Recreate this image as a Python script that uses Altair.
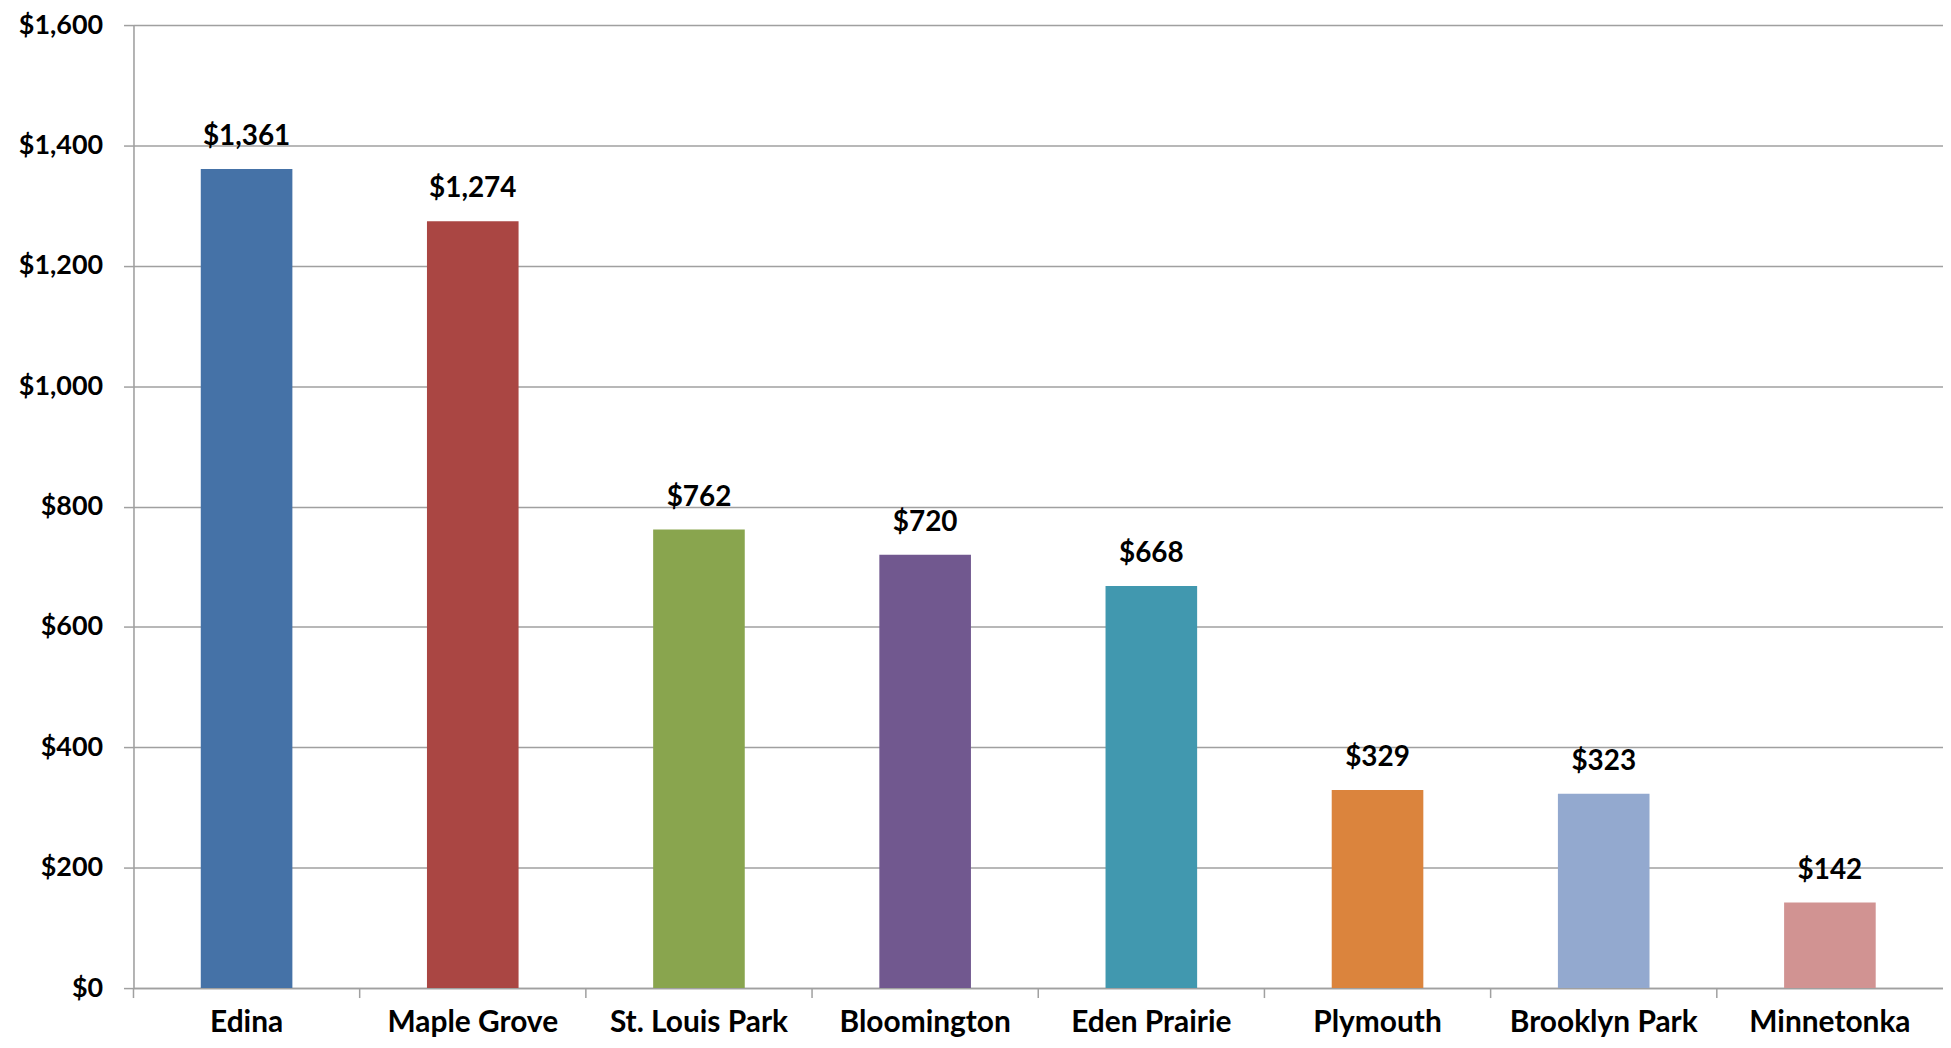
import altair as alt
import pandas as pd

cities = ["Edina", "Maple Grove", "St. Louis Park", "Bloomington",
          "Eden Prairie", "Plymouth", "Brooklyn Park", "Minnetonka"]
values = [1361, 1274, 762, 720, 668, 329, 323, 142]
colors = ["#4572A7", "#AA4643", "#89A54E", "#71588F",
          "#4198AF", "#DB843D", "#93A9CF", "#D19392"]
y_ticks = [0, 200, 400, 600, 800, 1000, 1200, 1400, 1600]

df = pd.DataFrame({"city": cities, "value": values, "color": colors})

FONT = "Lato"
GRAY = "#A0A0A0"
W, H = 1817, 967

x_enc = alt.X(
    "city:N", sort=cities,
    scale=alt.Scale(paddingInner=0, paddingOuter=0),
    axis=alt.Axis(title=None, labelAngle=0, ticks=False, grid=False,
                  domainColor=GRAY, domainWidth=1.5,
                  labelFont=FONT, labelFontSize=30, labelFontWeight="bold",
                  labelColor="black", labelPadding=20, labelLimit=0),
)
y_enc = alt.Y(
    "value:Q",
    scale=alt.Scale(domain=[0, 1600], nice=False),
    axis=alt.Axis(title=None, values=y_ticks, format="$,.0f",
                  grid=True, gridColor=GRAY, gridWidth=1.5,
                  tickSize=10, tickColor=GRAY, tickWidth=1.5,
                  domainColor=GRAY, domainWidth=1.5,
                  labelFont=FONT, labelFontSize=27, labelFontWeight="bold",
                  labelColor="black", labelPadding=21),
)

bars = alt.Chart(df).mark_bar(width=alt.RelativeBandSize(0.405)).encode(
    x=x_enc, y=y_enc, color=alt.Color("color:N", scale=None)
)

labels = alt.Chart(df).mark_text(
    baseline="middle", dy=-32, font=FONT, fontSize=28, fontWeight="bold", color="black"
).encode(
    x=alt.X("city:N", sort=cities),
    y=alt.Y("value:Q"),
    text=alt.Text("value:Q", format="$,.0f"),
)

xticks = alt.Chart(df).mark_rule(color=GRAY, strokeWidth=1.5).encode(
    x=alt.X("city:N", sort=cities, bandPosition=0),
    y=alt.value(H),
    y2=alt.value(H + 10),
)

chart = alt.layer(bars, xticks, labels).properties(
    width=W, height=H,
    padding={"left": 126, "top": 15, "right": 0, "bottom": 48},
    autosize=alt.AutoSizeParams(type="none"),
).configure_view(stroke=None).configure(background="white")

chart.save("out.html", embed_options={"renderer": "svg", "actions": False})
